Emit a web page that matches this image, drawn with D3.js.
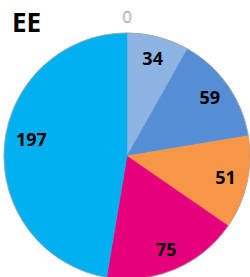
<!DOCTYPE html>
<html>
<head>
<meta charset="utf-8">
<script src="https://cdn.jsdelivr.net/npm/d3@7"></script>
<style>
  body { margin: 0; background: #fff; }
  text { font-family: "Open Sans", sans-serif; font-weight: bold; }
</style>
</head>
<body>
<script>
var width = 250,
    height = 277;

// slices, clockwise from 12 o'clock
var labels = ['zero', 'a', 'b', 'c', 'd', 'e'];
var values = [0, 34, 59, 51, 75, 197];
var colors = ['#8EB4E3', '#8EB4E3', '#558ED5', '#F79646', '#E6007E', '#00B0F0'];

var cx = 127, cy = 156, radius = 123;

var svg = d3.select('body')
  .append('svg')
  .attr('width', width)
  .attr('height', height);

var g = svg.append('g')
  .attr('transform', 'translate(' + cx + ',' + cy + ')');

var pie = d3.pie().sort(null).value(function(d) { return d; });
var arcs = pie(values);

var arc = d3.arc().innerRadius(0).outerRadius(radius);
var labelArc = d3.arc().innerRadius(101).outerRadius(101);
var outerArc = d3.arc().innerRadius(139).outerRadius(139);

g.selectAll('path')
  .data(arcs)
  .enter()
  .append('path')
  .attr('d', arc)
  .attr('fill', function(d, i) { return colors[i]; })
  .attr('stroke', function(d, i) { return colors[i]; })
  .attr('stroke-width', 0.5);

// thin grey rim
g.append('circle')
  .attr('r', radius)
  .attr('fill', 'none')
  .attr('stroke', '#a6a6a6')
  .attr('stroke-width', 0.8);

g.selectAll('text.val')
  .data(arcs.filter(function(d) { return d.value > 0; }))
  .enter()
  .append('text')
  .attr('class', 'val')
  .attr('transform', function(d) {
    var c = labelArc.centroid(d);
    // the big slice label sits a bit higher in the original
    if (d.value > 150) c = [c[0] + 5, c[1] - 8];
    return 'translate(' + c + ')';
  })
  .attr('text-anchor', 'middle')
  .attr('dy', '0.36em')
  .style('font-size', '18px')
  .attr('fill', '#000')
  .text(function(d) { return d.value; });

// zero slice label sits outside, hollow
g.selectAll('text.zero')
  .data(arcs.filter(function(d) { return d.value === 0; }))
  .enter()
  .append('text')
  .attr('class', 'zero')
  .attr('transform', function(d) { return 'translate(' + outerArc.centroid(d) + ')'; })
  .attr('text-anchor', 'middle')
  .attr('dy', '0.36em')
  .style('font-size', '17px')
  .style('font-weight', 'normal')
  .attr('fill', '#fff')
  .attr('stroke', '#9a9a9a')
  .attr('stroke-width', 0.6)
  .text(function(d) { return d.value; });

svg.append('text')
  .attr('x', 12)
  .attr('y', 32)
  .style('font-size', '26px')
  .attr('fill', '#000')
  .text('EE');
</script>
</body>
</html>
